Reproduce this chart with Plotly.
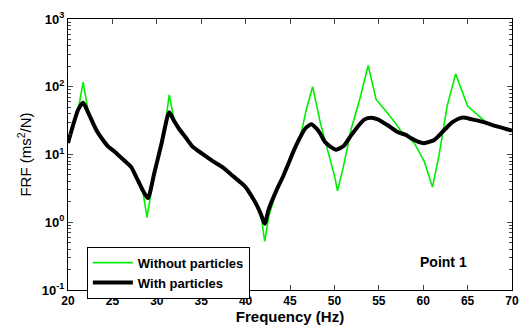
import plotly.graph_objects as go

# With particles (black)
freq_with = [20.0, 21.15, 21.7, 22.27, 23.2, 23.77, 24.5, 25.26, 26.4, 27.12, 27.7, 28.4, 29.0, 29.7,
             30.5, 31.4, 31.9, 32.5, 33.3, 34.0, 35.1, 36.3, 37.4, 38.5, 39.4, 40.0, 40.7, 41.3,
             41.8, 42.15, 42.6, 43.5, 44.27, 44.8, 45.4, 45.95, 46.7, 47.4, 48.0, 48.4, 48.9,
             49.5, 50.2, 51.0, 51.9, 52.85, 53.4, 54.15, 54.9, 56.0, 57.1, 58.1, 58.6, 59.4, 60.1,
             61.25, 62.35, 63.3, 64.4, 65.5, 66.8, 68.3, 70.0]
frf_with = [14.8, 46, 58, 41.6, 22.8, 17.5, 13.2, 11.0, 8.0, 6.5, 4.6, 3.0, 2.27, 5.2,
            13.9, 42, 32, 24, 17.5, 13.2, 10.3, 8.0, 6.5, 4.9, 3.9, 3.3, 2.4, 1.74,
            1.24, 0.95, 1.55, 3.0, 4.9, 7.2, 11.2, 16, 24, 28, 24, 20.4, 15.5,
            13.2, 11.8, 13.2, 19.3, 28, 33, 35, 33, 27, 21.5, 19.3, 17.5, 15.5, 14.7,
            16.4, 22.8, 30, 35, 33, 30, 26, 22.5]

# Without particles (green)
freq_without = [20.0, 21.15, 21.7, 22.27, 23.2, 23.77, 24.5, 25.26, 26.4, 27.12, 27.7, 28.4, 28.9,
                29.4, 29.7, 30.5, 30.9, 31.4, 31.9, 32.5, 33.3, 34.0, 35.1, 36.3, 37.4, 38.5, 39.4,
                40.0, 40.7, 41.3, 41.8, 42.15, 42.6, 43.5, 44.27, 44.8, 45.4, 45.95, 46.3, 46.85,
                47.55, 48.4, 49.3, 50.05, 50.35, 51.0, 51.9, 52.85, 53.8, 54.7, 55.65, 56.8, 57.5,
                58.1, 59.0, 60.1, 61.05, 61.8, 62.7, 63.65, 65.0, 66.45, 67.2, 68.3, 70.0]
frf_without = [14.8, 46, 117, 44, 22.8, 17.5, 13.2, 11.0, 8.0, 6.5, 4.6, 3.0, 1.18,
               3.2, 5.2, 13.9, 25, 76, 35, 24, 17.5, 13.2, 10.3, 8.0, 6.5, 4.9, 3.9,
               3.3, 2.4, 1.74, 1.1, 0.52, 1.2, 3.0, 4.9, 7.2, 11.2, 16, 22, 47,
               100, 30, 11.2, 4.6, 2.9, 6.5, 24, 65, 206, 65, 46, 30, 22,
               19.3, 14.7, 8.0, 3.3, 10, 52, 155, 52, 35, 29, 26, 22.5]

y_tickvals = [0.1, 1, 10, 100, 1000]
y_ticktext = ["10<sup>-1</sup>", "10<sup>0</sup>", "10<sup>1</sup>", "10<sup>2</sup>", "10<sup>3</sup>"]
x_tickvals = [20, 25, 30, 35, 40, 45, 50, 55, 60, 65, 70]
y_minor = [m * d for d in [0.1, 1, 10, 100] for m in range(2, 10)]

fig = go.Figure()
fig.add_trace(go.Scatter(x=freq_without, y=frf_without, mode="lines",
                         line=dict(color="#00ee00", width=1.6), name="Without particles"))
fig.add_trace(go.Scatter(x=freq_with, y=frf_with, mode="lines",
                         line=dict(color="black", width=4, shape="spline", smoothing=0.6),
                         name="With particles"))

font_main = "Liberation Sans, Arial, sans-serif"

fig.update_layout(
    width=529, height=332,
    margin=dict(l=68, r=14, t=10, b=42),
    paper_bgcolor="white", plot_bgcolor="white",
    font=dict(family=font_main, color="black"),
    showlegend=True,
    legend=dict(x=0.0425, y=0.16, xanchor="left", yanchor="top",
                bordercolor="black", borderwidth=1, bgcolor="white",
                font=dict(size=13, weight="bold", family=font_main),
                tracegroupgap=0, itemwidth=40),
    xaxis=dict(range=[20, 70], tickvals=x_tickvals, ticks="inside", ticklen=5,
               showline=True, linecolor="black", linewidth=1, mirror="ticks",
               showgrid=False, zeroline=False,
               tickfont=dict(size=12, weight="bold"),
               title=dict(text="Frequency (Hz)", font=dict(size=15, weight="bold"), standoff=0)),
    yaxis=dict(type="log", range=[-1, 3], tickvals=y_tickvals, ticktext=y_ticktext,
               ticks="inside", ticklen=5,
               minor=dict(ticks="inside", ticklen=3, showgrid=False,
                          tickmode="array", tickvals=y_minor),
               showline=True, linecolor="black", linewidth=1, mirror="ticks",
               showgrid=False, zeroline=False,
               tickfont=dict(size=13, weight="bold"),
               title=dict(text="FRF (ms<sup>2</sup>/N)", font=dict(size=15), standoff=6)),
    annotations=[dict(x=62.3, y=-0.586, xref="x", yref="y", text="Point 1", showarrow=False,
                      font=dict(size=14, weight="bold", family=font_main))],
)

fig.write_html("out.html")
